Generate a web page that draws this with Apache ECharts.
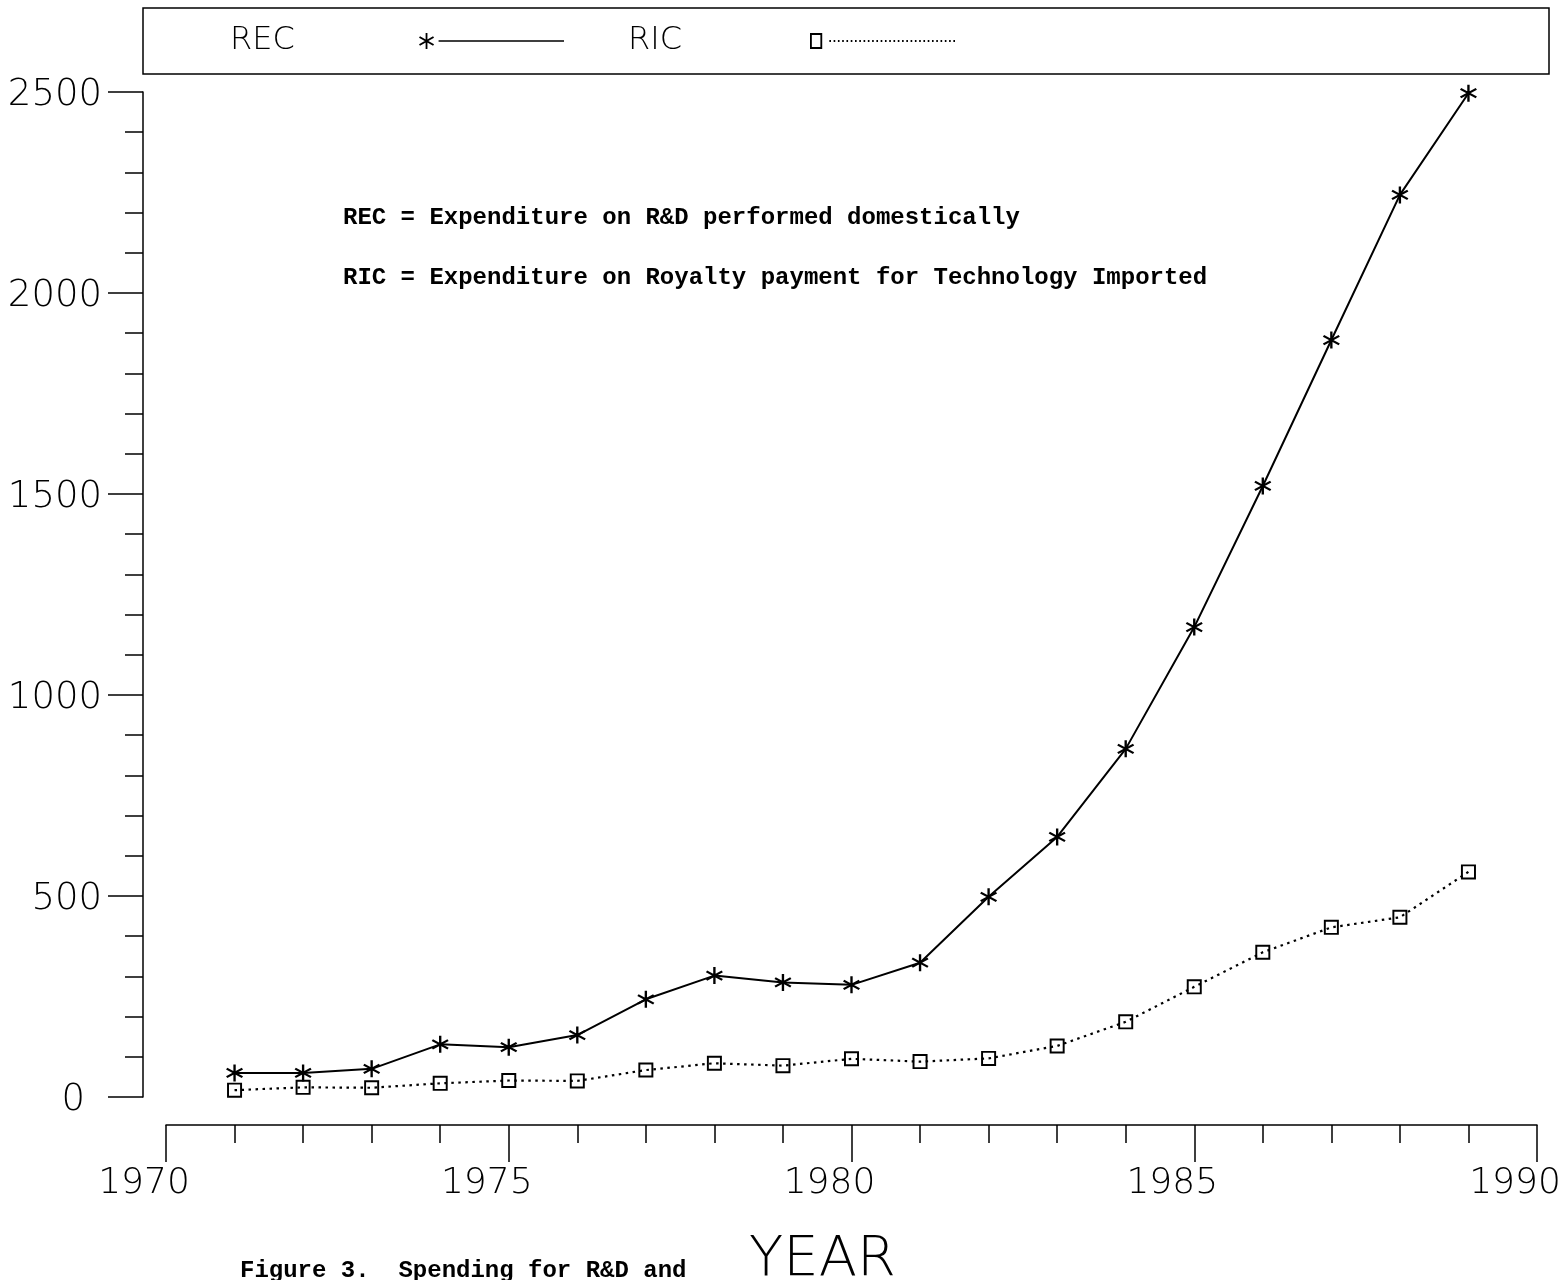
<!DOCTYPE html>
<html>
<head>
<meta charset="utf-8">
<script src="https://cdn.jsdelivr.net/npm/echarts@6/dist/echarts.min.js"></script>
<style>
html,body{margin:0;padding:0;background:#fff;overflow:hidden;}
#chart{width:1564px;height:1280px;}
</style>
</head>
<body>
<div id="chart"></div>
<script>
// ---- data ----
const years = [1971,1972,1973,1974,1975,1976,1977,1978,1979,1980,1981,1982,1983,1984,1985,1986,1987,1988,1989];
const recValues = [60,60,70,131,124,154,243,302,285,279,334,498,647,866,1169,1520,1883,2244,2497];
const ricValues = [17,24,23,34,41,40,67,84,78,95,88,96,127,187,274,360,422,447,560];
const seriesNames = ['REC','RIC'];
const xTicks = [1970,1975,1980,1985,1990];
const yTicks = [0,500,1000,1500,2000,2500];
const noteLines = [
  'REC = Expenditure on R&D performed domestically',
  'RIC = Expenditure on Royalty payment for Technology Imported'
];
const captionText = 'Figure 3.  Spending for R&D and';
const xName = 'YEAR';

// ---- symbols ----
const starPath = 'path://M44 0L56 0L56 100L44 100Z M13.2 19.9L93.2 69.9L86.8 80.1L6.8 30.1Z M6.8 69.9L86.8 19.9L93.2 30.1L13.2 80.1Z';
const squarePath = 'path://M0 0L100 0L100 100L0 100Z M13 13L13 87L87 87L87 13Z';
// legend icons: marker on the left, then a line
const recIcon = 'path://M7.1 0L8.9 0L8.9 16L7.1 16Z M1.5 3.2L15.5 11.2L14.5 12.8L0.5 4.8Z M0.5 11.2L14.5 3.2L15.5 4.8L1.5 12.8Z M20 7.2L145 7.2L145 8.8L20 8.8Z';
let ricIcon = 'path://M0 1L12 1L12 15L0 15Z M1.8 2.8L1.8 13.2L10.2 13.2L10.2 2.8Z';
for (let x = 19; x <= 143; x += 4.2) {
  ricIcon += ' M' + x.toFixed(1) + ' 7.2L' + (x + 1.6).toFixed(1) + ' 7.2L' + (x + 1.6).toFixed(1) + ' 8.8L' + x.toFixed(1) + ' 8.8Z';
}

const thinFont = '"DejaVu Sans", sans-serif';
const monoFont = '"Liberation Mono", "DejaVu Sans Mono", monospace';

const chart = echarts.init(document.getElementById('chart'), null, {renderer: 'canvas'});

const option = {
  backgroundColor: '#fff',
  animation: false,
  grid: {left: 166, right: 27, top: 92, bottom: 183, containLabel: false, outerBoundsMode: 'none'},
  legend: {
    left: 143, top: 8,
    orient: 'horizontal',
    align: 'right',
    padding: [17, 594, 17, 87],
    borderColor: '#000', borderWidth: 1.5,
    itemWidth: 145, itemHeight: 16,
    itemGap: 64,
    symbolKeepAspect: false,
    itemStyle: {borderWidth: 0},
    data: [
      {name: seriesNames[0], icon: recIcon},
      {name: seriesNames[1], icon: ricIcon}
    ],
    formatter: function (name) { return name === 'REC' ? '{a|' + name + '}' : '{b|' + name + '}'; },
    textStyle: {
      color: '#000', fontFamily: thinFont, fontWeight: 200, fontSize: 32,
      rich: {
        a: {width: 184, align: 'left', fontFamily: thinFont, fontWeight: 200, fontSize: 32, lineHeight: 32, color: '#000'},
        b: {width: 177, align: 'left', fontFamily: thinFont, fontWeight: 200, fontSize: 32, lineHeight: 32, color: '#000'}
      }
    }
  },
  xAxis: {
    type: 'value',
    min: xTicks[0], max: xTicks[xTicks.length - 1], interval: 5,
    offset: 28,
    name: xName,
    nameLocation: 'middle',
    nameGap: 107,
    nameTextStyle: {fontFamily: thinFont, fontWeight: 200, fontSize: 56, color: '#000', padding: [0, 58, 0, 0]},
    axisLine: {show: true, onZero: false, lineStyle: {color: '#000', width: 1.5}},
    axisTick: {show: true, inside: false, length: 37, lineStyle: {color: '#000', width: 1.5}},
    minorTick: {show: true, splitNumber: 5, length: 18, lineStyle: {color: '#000', width: 1.5}},
    splitLine: {show: false},
    minorSplitLine: {show: false},
    axisLabel: {
      margin: 41, color: '#000', fontFamily: thinFont, fontWeight: 200, fontSize: 36,
      padding: [0, 44, 0, 0],
      formatter: function (v) { return String(v); },
      showMinLabel: true, showMaxLabel: true
    }
  },
  yAxis: {
    type: 'value',
    min: yTicks[0], max: yTicks[yTicks.length - 1], interval: 500,
    offset: 23,
    axisLine: {show: true, onZero: false, lineStyle: {color: '#000', width: 1.5}},
    axisTick: {show: true, inside: false, length: 35, lineStyle: {color: '#000', width: 1.5}},
    minorTick: {show: true, splitNumber: 5, length: 18, lineStyle: {color: '#000', width: 1.5}},
    splitLine: {show: false},
    minorSplitLine: {show: false},
    axisLabel: {
      margin: 41, color: '#000', fontFamily: thinFont, fontWeight: 200, fontSize: 37,
      padding: [6, 0, 0, 0],
      formatter: function (v) { return v === 0 ? '{z|0}' : String(v); },
      rich: {z: {fontFamily: thinFont, fontWeight: 200, fontSize: 37, color: '#000', padding: [0, 17, 0, 0]}}
    }
  },
  series: [
    {
      name: seriesNames[0],
      type: 'line',
      data: years.map((y, i) => [y, recValues[i]]),
      symbol: starPath,
      symbolSize: 17,
      showAllSymbol: true,
      itemStyle: {color: '#000'},
      lineStyle: {color: '#000', width: 2, type: 'solid'},
      z: 3
    },
    {
      name: seriesNames[1],
      type: 'line',
      data: years.map((y, i) => [y, ricValues[i]]),
      symbol: squarePath,
      symbolSize: 15,
      showAllSymbol: true,
      itemStyle: {color: '#000'},
      lineStyle: {color: '#000', width: 2.2, type: [2.5, 4.5]},
      z: 2
    }
  ],
  graphic: [
    {type: 'text', left: 343, top: 206, style: {text: noteLines[0], font: 'bold 24px ' + monoFont, fill: '#000'}},
    {type: 'text', left: 343, top: 266, style: {text: noteLines[1], font: 'bold 24px ' + monoFont, fill: '#000'}},
    {type: 'text', left: 240, top: 1259, style: {text: captionText, font: 'bold 24px ' + monoFont, fill: '#000'}}
  ]
};
chart.setOption(option);
</script>
</body>
</html>
